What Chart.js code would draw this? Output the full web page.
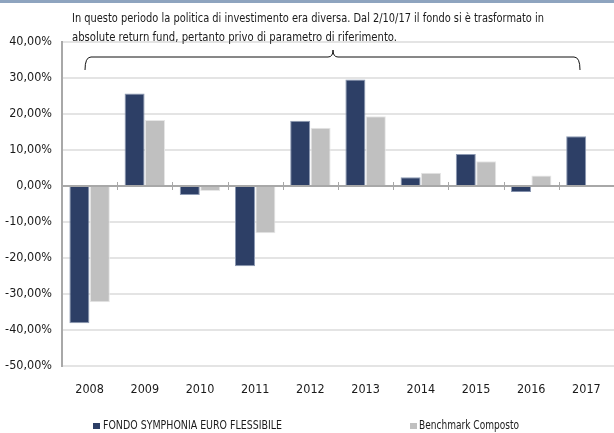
<!DOCTYPE html>
<html>
<head>
<meta charset="utf-8">
<script src="https://cdn.jsdelivr.net/npm/chart.js@4.4.1/dist/chart.umd.min.js"></script>
<style>
  html, body { margin: 0; padding: 0; background: #fff; }
  #wrap { width: 614px; height: 433px; position: relative; }
</style>
</head>
<body>
<div id="wrap"><canvas id="chart" width="614" height="433"></canvas></div>
<script>
const years = ['2008', '2009', '2010', '2011', '2012', '2013', '2014', '2015', '2016', '2017'];
const fondo = [-38.1, 25.7, -2.5, -22.3, 18.1, 29.6, 2.4, 8.9, -1.7, 13.8];
const benchmark = [-32.3, 18.3, -1.4, -13.1, 16.2, 19.4, 3.7, 6.9, 2.9, null];
const seriesNames = ['FONDO SYMPHONIA EURO FLESSIBILE', 'Benchmark Composto'];
const noteLines = [
  'In questo periodo la politica di investimento era diversa. Dal 2/10/17 il fondo si è trasformato in',
  'absolute return fund, pertanto privo di parametro di riferimento.'
];

const FONT = '"Liberation Sans Narrow", "DejaVu Sans Condensed", "Roboto", sans-serif';
const navy = '#2d3f66';
const grey = '#c0c0c0';

// top band, note text, brace, zero axis ticks and legend
const decor = {
  id: 'decor',
  afterDraw(chart) {
    const ctx = chart.ctx;
    const x = chart.scales.x, y = chart.scales.y;
    ctx.save();
    ctx.fillStyle = '#8ea4bf';
    ctx.fillRect(0, 0, chart.width, 3);

    // zero line ticks between categories
    const y0 = y.getPixelForValue(0);
    const step = x.getPixelForValue(1) - x.getPixelForValue(0);
    ctx.strokeStyle = '#a8a8a8';
    ctx.lineWidth = 1;
    for (let i = 1; i < years.length; i++) {
      const px = Math.round(x.getPixelForValue(i) - step / 2) + 0.5;
      ctx.beginPath();
      ctx.moveTo(px, y0 - 4);
      ctx.lineTo(px, y0 + 4);
      ctx.stroke();
    }

    // note
    ctx.fillStyle = '#1a1a1a';
    ctx.font = '12.5px ' + FONT;
    ctx.textBaseline = 'middle';
    ctx.textAlign = 'left';
    ctx.fillText(noteLines[0], 72, 19, 472);
    ctx.fillText(noteLines[1], 72, 38, 325);

    // brace
    const bl = 85, br = 580, bm = 333, by = 57;
    ctx.strokeStyle = '#111';
    ctx.lineWidth = 1;
    ctx.beginPath();
    ctx.moveTo(bl, 70);
    ctx.quadraticCurveTo(bl, by, bl + 6, by);
    ctx.lineTo(bm - 5, by);
    ctx.quadraticCurveTo(bm, by, bm, 50);
    ctx.quadraticCurveTo(bm, by, bm + 5, by);
    ctx.lineTo(br - 6, by);
    ctx.quadraticCurveTo(br, by, br, 70);
    ctx.stroke();

    // legend
    ctx.font = '11.5px ' + FONT;
    const items = [[93, 103, 179], [410, 419, 100]];
    chart.data.datasets.forEach((ds, i) => {
      const [sx, tx, w] = items[i];
      ctx.fillStyle = ds.backgroundColor;
      ctx.fillRect(sx, 423, 7, 6);
      ctx.fillStyle = '#1a1a1a';
      ctx.fillText(seriesNames[i], tx, 426.5, w);
    });
    ctx.restore();
  }
};

new Chart(document.getElementById('chart'), {
  type: 'bar',
  data: {
    labels: years,
    datasets: [
      { label: seriesNames[0], data: fondo, backgroundColor: navy, borderColor: '#8d9ab3', borderWidth: 1,
        categoryPercentage: 0.74, barPercentage: 0.98 },
      { label: seriesNames[1], data: benchmark, backgroundColor: grey, borderColor: '#e6e6e6', borderWidth: 1,
        categoryPercentage: 0.74, barPercentage: 0.98 }
    ]
  },
  options: {
    responsive: false,
    animation: false,
    layout: { padding: { top: 42, right: 0, bottom: 37, left: 0 } },
    plugins: { legend: { display: false }, tooltip: { enabled: false } },
    scales: {
      x: {
        grid: { display: false },
        border: { display: false },
        ticks: { color: '#1a1a1a', font: { family: FONT, size: 12.5 }, padding: 8, maxRotation: 0 },
        afterFit(s) { s.height = 30; }
      },
      y: {
        min: -50, max: 40,
        ticks: {
          stepSize: 10, color: '#1a1a1a', padding: 10,
          font: { family: FONT, size: 12.5 },
          callback: v => v.toFixed(2).replace('.', ',') + '%'
        },
        grid: {
          drawTicks: false,
          color: ctx => ctx.tick && ctx.tick.value === 0 ? '#a8a8a8' : '#e4e4e4',
          lineWidth: ctx => ctx.tick && ctx.tick.value === 0 ? 2 : 2
        },
        border: { color: '#a8a8a8', width: 2 },
        afterFit(s) { s.width = 62; }
      }
    }
  },
  plugins: [decor]
});
</script>
</body>
</html>
